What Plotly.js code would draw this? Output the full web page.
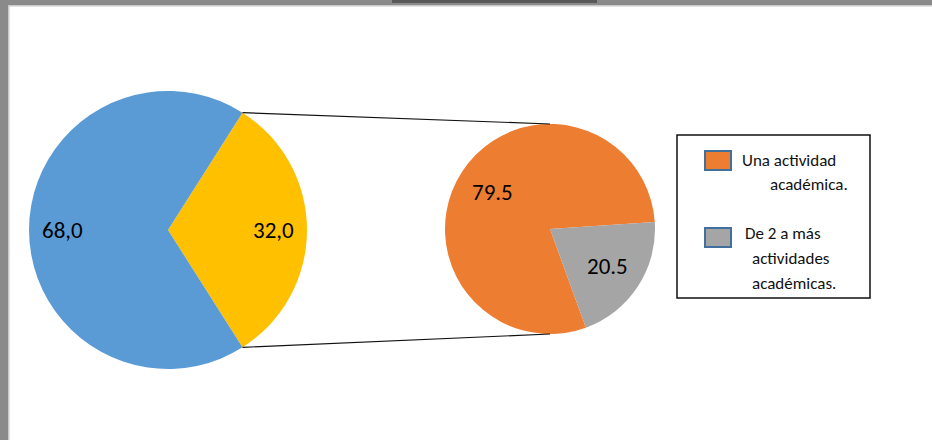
<!DOCTYPE html>
<html><head><meta charset="utf-8">
<script src="https://cdn.plot.ly/plotly-3.0.1.min.js"></script>
<style>html,body{margin:0;padding:0;background:#fff}#chart{width:932px;height:440px}</style>
</head><body><div id="chart"></div>
<script>
// ---- data ----
const mainCategories = ['Realiza actividades académicas', 'No realiza actividades académicas'];
const mainValues = [32.0, 68.0];
const mainText = ['32,0', '68,0'];
const mainColors = ['#FFC000', '#5B9BD5'];

const subCategories = ['Una actividad académica.', 'De 2 a más actividades académicas.'];
const subValues = [79.5, 20.5];
const subText = ['79.5', '20.5'];
const subColors = ['#ED7D31', '#A5A5A5'];

const legendLines = [['Una actividad', 'académica.'], ['De 2 a más', 'actividades', 'académicas.']];

// ---- layout geometry (pixels) ----
const W = 932, H = 440;
const mainPie = {cx: 168, cy: 230, r: 139, labelFrac: 0.76};
const subPie = {cx: 550, cy: 229, r: 105, labelFrac: 0.65};
const px = x => x / W, py = y => 1 - y / H;

const sum = a => a.reduce((s, v) => s + v, 0);
const mainRotation = 90 - (mainValues[0] / sum(mainValues)) * 180;
const subRotation = 160;

function domainOf(p) {
  return {x: [px(p.cx - p.r), px(p.cx + p.r)], y: [py(p.cy + p.r), py(p.cy - p.r)]};
}
function pointAt(p, deg, f) {
  const a = deg * Math.PI / 180;
  return [p.cx + f * p.r * Math.sin(a), p.cy - f * p.r * Math.cos(a)];
}
const font = 'Carlito, Lato, sans-serif';
function labelAnnotations(p, values, texts, rotation) {
  const tot = sum(values);
  let start = rotation;
  const out = [];
  values.forEach((v, i) => {
    const span = v / tot * 360;
    const [x, y] = pointAt(p, start + span / 2, p.labelFrac);
    out.push({xref: 'paper', yref: 'paper', x: px(x), y: py(y), text: texts[i],
      showarrow: false, xanchor: 'center', yanchor: 'middle',
      font: {family: font, size: 23, color: '#000'}});
    start += span;
  });
  return out;
}

const traces = [
  {type: 'pie', values: mainValues, labels: mainCategories, sort: false, direction: 'clockwise',
   rotation: mainRotation, domain: domainOf(mainPie), textinfo: 'none', showlegend: false,
   marker: {colors: mainColors, line: {width: 0}}, hoverinfo: 'label+value'},
  {type: 'pie', values: subValues, labels: subCategories, sort: false, direction: 'clockwise',
   rotation: subRotation, domain: domainOf(subPie), textinfo: 'none', showlegend: false,
   marker: {colors: subColors, line: {width: 0}}, hoverinfo: 'label+value'}
];

// connector lines from the edges of the exploded slice to top/bottom of second pie
const mStart = mainRotation, mEnd = mainRotation + mainValues[0] / sum(mainValues) * 360;
const t0 = pointAt(mainPie, mStart, 1), b0 = pointAt(mainPie, mEnd, 1);
const t1 = pointAt(subPie, 0, 1), b1 = pointAt(subPie, 180, 1);

const shapes = [
  // frame
  {type: 'rect', xref: 'paper', yref: 'paper', x0: 0, x1: px(8), y0: 0, y1: 1, fillcolor: '#8a8a8a', line: {width: 0}},
  {type: 'rect', xref: 'paper', yref: 'paper', x0: px(8), x1: px(9.5), y0: 0, y1: py(5), fillcolor: '#c9c9c9', line: {width: 0}},
  {type: 'rect', xref: 'paper', yref: 'paper', x0: 0, x1: 1, y0: py(5), y1: 1, fillcolor: '#8a8a8a', line: {width: 0}},
  {type: 'rect', xref: 'paper', yref: 'paper', x0: px(8), x1: 1, y0: py(6.5), y1: py(5), fillcolor: '#c9c9c9', line: {width: 0}},
  {type: 'rect', xref: 'paper', yref: 'paper', x0: px(392), x1: px(597), y0: py(3), y1: 1, fillcolor: '#3a3a3a', line: {width: 0}, opacity: 0.6},
  // connectors
  {type: 'line', xref: 'paper', yref: 'paper', x0: px(t0[0]), y0: py(t0[1]), x1: px(t1[0]), y1: py(t1[1]), line: {color: '#111', width: 1.2}},
  {type: 'line', xref: 'paper', yref: 'paper', x0: px(b0[0]), y0: py(b0[1]), x1: px(b1[0]), y1: py(b1[1]), line: {color: '#111', width: 1.2}},
  // legend box
  {type: 'rect', xref: 'paper', yref: 'paper', x0: px(677), x1: px(870), y0: py(298), y1: py(135), line: {color: '#111', width: 1.5}, fillcolor: 'rgba(0,0,0,0)'}
];

// legend swatches + text
const swatchTops = [151, 228];
const lineYs = [[160, 184], [233, 258, 283]];
const lineXs = [[740, 768], [743, 750, 750]];
const annotations = [...labelAnnotations(mainPie, mainValues, mainText, mainRotation),
                     ...labelAnnotations(subPie, subValues, subText, subRotation)];
subColors.forEach((c, i) => {
  shapes.push({type: 'rect', xref: 'paper', yref: 'paper', x0: px(705), x1: px(731),
    y0: py(swatchTops[i] + 19), y1: py(swatchTops[i]), fillcolor: c, line: {color: '#42709e', width: 2}});
  legendLines[i].forEach((t, j) => {
    annotations.push({xref: 'paper', yref: 'paper', x: px(lineXs[i][j]), y: py(lineYs[i][j]), text: t,
      showarrow: false, xanchor: 'left', yanchor: 'middle',
      font: {family: font, size: 17, color: '#111'}});
  });
});

const layout = {
  width: W, height: H, margin: {l: 0, r: 0, t: 0, b: 0},
  paper_bgcolor: '#ffffff', plot_bgcolor: '#ffffff', showlegend: false,
  shapes: shapes, annotations: annotations, font: {family: font}
};

Plotly.newPlot('chart', traces, layout, {staticPlot: true});
</script></body></html>
